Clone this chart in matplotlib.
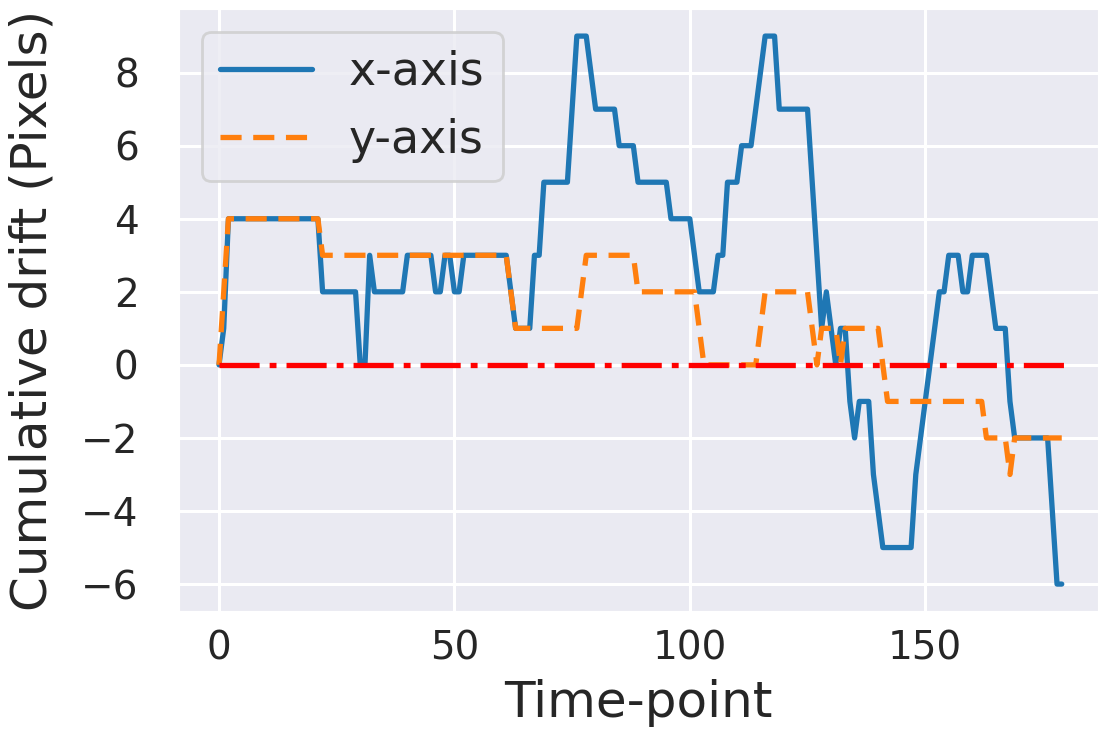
import numpy as np
import matplotlib
matplotlib.use("Agg")
import matplotlib.pyplot as plt
import seaborn as sns

# cumulative drift per time-point, in pixels
time_points = np.arange(180)

drift_x = [
    0, 1, 4, 4, 4, 4, 4, 4, 4, 4,
    4, 4, 4, 4, 4, 4, 4, 4, 4, 4,
    4, 4, 2, 2, 2, 2, 2, 2, 2, 2,
    0, 0, 3, 2, 2, 2, 2, 2, 2, 2,
    3, 3, 3, 3, 3, 3, 2, 2, 3, 3,
    2, 2, 3, 3, 3, 3, 3, 3, 3, 3,
    3, 3, 2, 1, 1, 1, 1, 3, 3, 5,
    5, 5, 5, 5, 5, 7, 9, 9, 9, 8,
    7, 7, 7, 7, 7, 6, 6, 6, 6, 5,
    5, 5, 5, 5, 5, 5, 4, 4, 4, 4,
    4, 3, 2, 2, 2, 2, 3, 3, 5, 5,
    5, 6, 6, 6, 7, 8, 9, 9, 9, 7,
    7, 7, 7, 7, 7, 7, 5, 3, 1, 2,
    1, 0, 1, 1, -1, -2, -1, -1, -1, -3,
    -4, -5, -5, -5, -5, -5, -5, -5, -3, -2,
    -1, 0, 1, 2, 2, 3, 3, 3, 2, 2,
    3, 3, 3, 3, 2, 1, 1, 1, -1, -2,
    -2, -2, -2, -2, -2, -2, -2, -4, -6, -6,
]

drift_y = [
    0, 2, 4, 4, 4, 4, 4, 4, 4, 4,
    4, 4, 4, 4, 4, 4, 4, 4, 4, 4,
    4, 4, 3, 3, 3, 3, 3, 3, 3, 3,
    3, 3, 3, 3, 3, 3, 3, 3, 3, 3,
    3, 3, 3, 3, 3, 3, 3, 3, 3, 3,
    3, 3, 3, 3, 3, 3, 3, 3, 3, 3,
    3, 3, 2, 1, 1, 1, 1, 1, 1, 1,
    1, 1, 1, 1, 1, 1, 1, 2, 3, 3,
    3, 3, 3, 3, 3, 3, 3, 3, 3, 2,
    2, 2, 2, 2, 2, 2, 2, 2, 2, 2,
    2, 2, 1, 0, 0, 0, 0, 0, 0, 0,
    0, 0, 0, 0, 0, 1, 2, 2, 2, 2,
    2, 2, 2, 2, 2, 2, 1, 0, 1, 1,
    1, 1, 0, 1, 1, 1, 1, 1, 1, 1,
    1, 0, -1, -1, -1, -1, -1, -1, -1, -1,
    -1, -1, -1, -1, -1, -1, -1, -1, -1, -1,
    -1, -1, -1, -2, -2, -2, -2, -2, -3, -2,
    -2, -2, -2, -2, -2, -2, -2, -2, -2, -2,
]

# zero-drift reference
ref_t = [0, 180]
ref_drift = [0, 0]

sns.set_style("darkgrid")
plt.rcParams["font.family"] = ["DejaVu Sans"]

fig = plt.figure(figsize=(10.98, 7.5), dpi=100)
ax = fig.add_axes([179 / 1098, 0.1847, 1 - 179 / 1098, 0.8037])

ax.plot(time_points, drift_x, color="#1f77b4", lw=3.8, label="x-axis")
ax.plot(time_points, drift_y, color="#ff7f0e", lw=3.8,
        ls=(0, (4.0, 2.2)), label="y-axis")
ax.plot(ref_t, ref_drift, color="red", lw=3.8, ls=(0, (7.6, 1.9, 1.3, 1.9)))

ax.set_xlim(-8.5, 186.7)
ax.set_ylim(-6.75, 9.75)
ax.set_xticks([0, 50, 100, 150])
ax.set_yticks(range(-6, 10, 2))
ax.grid(color="white", lw=2.2)
ax.tick_params(labelsize=28, labelcolor=".15", length=0)
ax.tick_params(axis="x", pad=13)
ax.tick_params(axis="y", pad=29)

ax.set_xlabel("Time-point", fontsize=36, color=".15")
ax.set_ylabel("Cumulative drift (Pixels)", fontsize=36, color=".15")
ax.xaxis.set_label_coords(0.5, -0.112)
ax.yaxis.set_label_coords(-0.133, 0.5)

leg = ax.legend(loc="upper left", fontsize=33, framealpha=0.8)
leg.get_frame().set_linewidth(2)
leg.get_frame().set_edgecolor("0.8")
for t in leg.get_texts():
    t.set_color(".15")

fig.savefig("out.png", dpi=100)
